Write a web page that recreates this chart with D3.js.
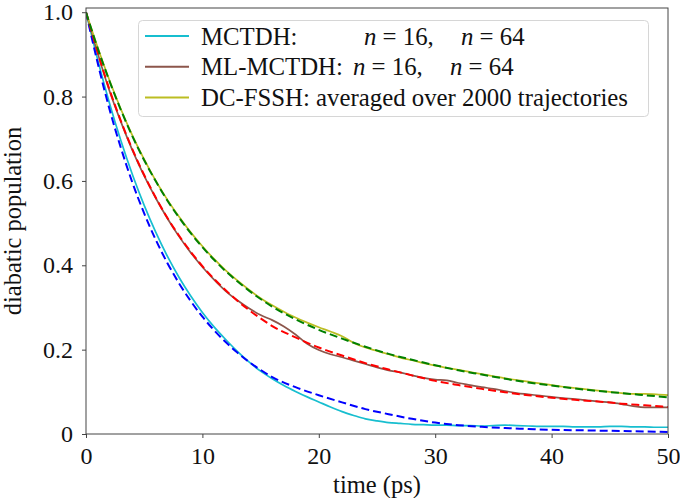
<!DOCTYPE html>
<html>
<head>
<meta charset="utf-8">
<script src="https://cdn.jsdelivr.net/npm/d3@7"></script>
<style>
  body { margin: 0; background: #fff; }
  svg text { font-family: "Liberation Serif", "DejaVu Serif", serif !important; fill: #111; }
</style>
</head>
<body>
<div id="chart"></div>
<script>
'use strict';

/* time grids (ps) */
var tFit = [0,1,2,3,4,5,6,7,8,9,10,11,12,13,14,15,16,18,20,22,24,26,28,30,32,34,36,38,40,42,44,46,48,50];
var tSim = [0,1,2,3,4,5,6,7,8,9,10,11,12,13,14,15,16,17,18,19,20,21,22,23,24,25,26,27,28,29,30,31,32,33,34,35,36,37,38,39,40,41,42,43,44,45,46,47,48,49,50];

/* dashed fits */
var fitMctdh = [1.0,0.88,0.772,0.678,0.595,0.523,0.46,0.405,0.357,0.315,0.278,0.246,0.218,0.193,0.171,0.152,0.135,0.111,0.092,0.075,0.059,0.047,0.036,0.027,0.021,0.017,0.014,0.012,0.010,0.009,0.008,0.007,0.006,0.005];
var fitMl = [1.0,0.905,0.818,0.742,0.674,0.614,0.56,0.512,0.47,0.432,0.398,0.368,0.341,0.316,0.294,0.274,0.256,0.229,0.205,0.186,0.168,0.153,0.139,0.126,0.116,0.107,0.099,0.092,0.086,0.081,0.077,0.072,0.068,0.064];
var fitFssh = [1.0,0.915,0.838,0.768,0.705,0.649,0.599,0.553,0.513,0.476,0.443,0.413,0.386,0.362,0.340,0.32,0.302,0.272,0.247,0.226,0.207,0.19,0.176,0.163,0.151,0.141,0.131,0.122,0.115,0.108,0.102,0.097,0.092,0.087];

/* solid simulation curves */
var simMctdh = [1.0,0.888,0.786,0.695,0.614,0.542,0.478,0.421,0.371,0.327,0.288,0.254,0.224,0.196,0.171,0.149,0.131,0.115,0.101,0.088,0.076,0.064,0.053,0.044,0.036,0.031,0.027,0.025,0.023,0.022,0.021,0.021,0.020,0.020,0.019,0.020,0.021,0.020,0.019,0.018,0.018,0.018,0.017,0.017,0.017,0.018,0.018,0.017,0.017,0.016,0.016];
var simMl = [1.0,0.903,0.815,0.74,0.672,0.612,0.559,0.511,0.468,0.43,0.396,0.366,0.339,0.317,0.298,0.282,0.27,0.255,0.236,0.214,0.199,0.189,0.182,0.174,0.166,0.158,0.151,0.146,0.139,0.133,0.129,0.127,0.121,0.116,0.111,0.107,0.102,0.097,0.094,0.091,0.088,0.085,0.083,0.080,0.077,0.075,0.071,0.066,0.063,0.063,0.063];
var simFssh = [1.0,0.917,0.84,0.77,0.707,0.651,0.6,0.555,0.515,0.478,0.445,0.415,0.388,0.364,0.342,0.322,0.305,0.29,0.276,0.264,0.253,0.243,0.232,0.216,0.205,0.197,0.189,0.181,0.175,0.168,0.162,0.157,0.152,0.147,0.142,0.137,0.132,0.128,0.124,0.12,0.116,0.112,0.109,0.106,0.103,0.1,0.097,0.095,0.095,0.094,0.092];

var xTicks = [0, 10, 20, 30, 40, 50];
var yTicks = [0, 0.2, 0.4, 0.6, 0.8, 1.0];
var yTickLabels = ['0', '0.2', '0.4', '0.6', '0.8', '1.0'];

var w = 680, h = 498;
var padLeft = 86, padRight = 668, padTop = 8, padBottom = 434;
var serif = '"Liberation Serif", "DejaVu Serif", serif';

var svg = d3.select('#chart').append('svg')
  .attr('width', w)
  .attr('height', h)
  .attr('font-family', serif);

var x = d3.scaleLinear().domain([0, 50]).range([padLeft, padRight]);
var y = d3.scaleLinear().domain([0, 1.01]).range([padBottom, padTop]);

/* Axes */

svg.append('g')
  .attr('transform', 'translate(0,' + padBottom + ')')
  .call(d3.axisBottom(x).tickValues(xTicks).tickSize(4).tickPadding(9).tickFormat(d3.format('d')))
  .call(function (g) {
    g.attr('font-family', serif).attr('font-size', 24);
    g.select('.domain').remove();
    g.selectAll('line').attr('stroke', '#444');
    g.selectAll('text').attr('fill', '#111');
  });

svg.append('g')
  .attr('transform', 'translate(' + padLeft + ',0)')
  .call(d3.axisLeft(y).tickValues(yTicks).tickSize(4).tickPadding(9)
    .tickFormat(function (d, i) { return yTickLabels[i]; }))
  .call(function (g) {
    g.attr('font-family', serif).attr('font-size', 24);
    g.select('.domain').remove();
    g.selectAll('line').attr('stroke', '#444');
    g.selectAll('text').attr('fill', '#111');
  });

/* Curves */

svg.append('clipPath').attr('id', 'plotclip')
  .append('rect')
  .attr('x', padLeft).attr('y', padTop)
  .attr('width', padRight - padLeft).attr('height', padBottom - padTop);

var plot = svg.append('g').attr('clip-path', 'url(#plotclip)');

function drawLine(ts, vs, color, dashed) {
  var pts = ts.map(function (t, i) { return [t, vs[i]]; });
  var line = d3.line()
    .x(function (d) { return x(d[0]); })
    .y(function (d) { return y(d[1]); })
    .curve(d3.curveMonotoneX);
  plot.append('path')
    .datum(pts)
    .attr('d', line)
    .attr('fill', 'none')
    .attr('stroke', color)
    .attr('stroke-width', dashed ? 2 : 1.7)
    .attr('stroke-dasharray', dashed ? '8,4' : null);
}

drawLine(tSim, simMctdh, '#17becf', false);
drawLine(tSim, simMl, '#8c564b', false);
drawLine(tSim, simFssh, '#bcbd22', false);
drawLine(tFit, fitMctdh, '#0000ff', true);
drawLine(tFit, fitMl, '#ff0000', true);
drawLine(tFit, fitFssh, '#008000', true);

/* Frame */

svg.append('rect')
  .attr('x', padLeft)
  .attr('y', padTop)
  .attr('width', padRight - padLeft)
  .attr('height', padBottom - padTop)
  .attr('fill', 'none')
  .attr('stroke', '#444')
  .attr('stroke-width', 1);

/* Axis labels */

svg.append('text')
  .text('time (ps)')
  .attr('x', (padLeft + padRight) / 2)
  .attr('y', 493)
  .attr('text-anchor', 'middle')
  .attr('font-size', '24.5px');

svg.append('text')
  .text('diabatic population')
  .attr('transform', 'translate(21,' + ((padTop + padBottom) / 2) + ') rotate(-90)')
  .attr('text-anchor', 'middle')
  .attr('font-size', '24.5px');

/* Legend */

var legend = svg.append('g');

legend.append('rect')
  .attr('x', 138.5)
  .attr('y', 20.5)
  .attr('width', 510)
  .attr('height', 96)
  .attr('rx', 4)
  .attr('fill', 'rgba(255,255,255,0.8)')
  .attr('stroke', '#d6d6d6');

var legendRows = [
  { color: '#17becf', name: 'MCTDH:', parts: [[364, 'n', ' = 16,'], [461, 'n', ' = 64']] },
  { color: '#8c564b', name: 'ML-MCTDH:', parts: [[353, 'n', ' = 16,'], [450, 'n', ' = 64']] },
  { color: '#bcbd22', name: 'DC-FSSH: averaged over 2000 trajectories', parts: [] }
];

legendRows.forEach(function (r, i) {
  var ly = 36 + i * 30.8;
  legend.append('line')
    .attr('x1', 145).attr('x2', 189)
    .attr('y1', ly).attr('y2', ly)
    .attr('stroke', r.color)
    .attr('stroke-width', 2);
  legend.append('text')
    .text(r.name)
    .attr('x', 201)
    .attr('y', ly + 8.5)
    .attr('font-size', '24.8px');
  r.parts.forEach(function (p) {
    var t = legend.append('text')
      .attr('x', p[0])
      .attr('y', ly + 8.5)
      .attr('font-size', '24.8px');
    t.append('tspan').attr('font-style', 'italic').text(p[1]);
    t.append('tspan').text(p[2]);
  });
});
</script>
</body>
</html>
